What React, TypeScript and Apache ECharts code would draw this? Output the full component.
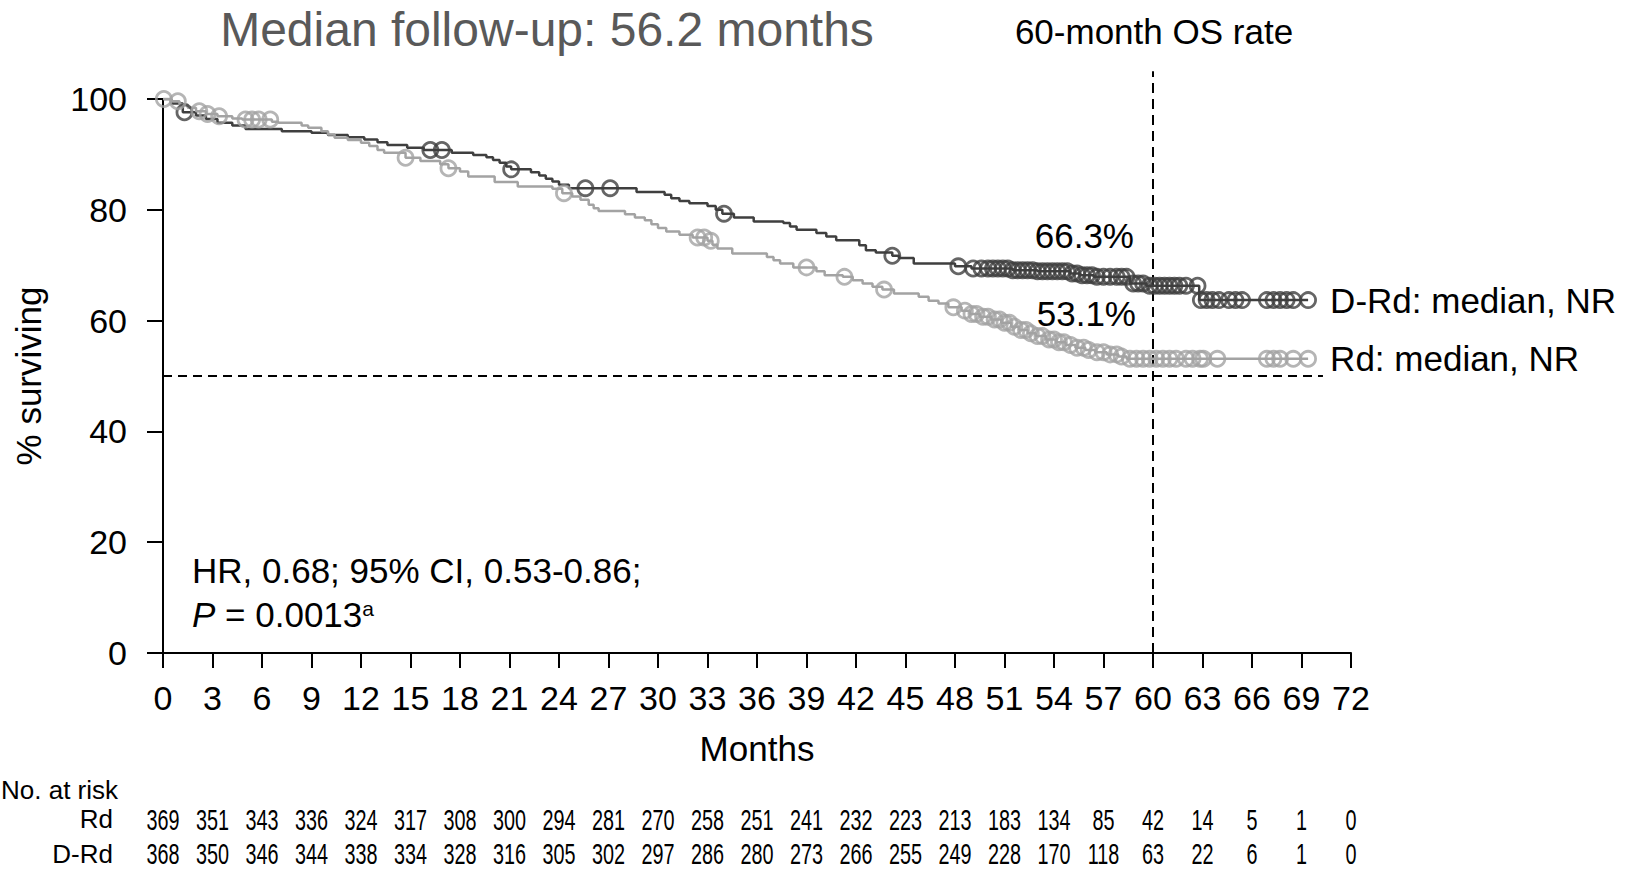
import React, { useEffect, useRef } from "react";
import * as echarts from "echarts";

const FONT = "'Liberation Sans', Arial, sans-serif";

const DARK = "#3f3f3f";
const GRAY = "#a3a3a3";

// Kaplan–Meier steps [month, % surviving]
const drdSteps: [number, number][] = [
  [0, 100], [0.5, 99.2], [1.2, 97.6], [2.0, 97.0], [2.6, 96.4], [3.3, 95.7], [4.2, 95.2], [5.0, 94.6],
  [7.2, 94.2], [9.0, 93.9], [10.0, 93.5], [11.2, 93.1], [12.2, 92.7], [13.0, 92.2], [13.6, 91.7],
  [14.8, 91.2], [15.8, 90.8], [17.5, 90.3], [18.8, 89.9], [19.6, 89.5], [20.0, 89.0], [20.4, 88.5],
  [20.8, 87.8], [21.1, 87.3], [22.3, 86.8], [22.8, 86.2], [23.2, 85.6], [23.6, 85.1], [24.0, 84.5],
  [24.6, 83.9], [28.7, 83.2], [30.4, 82.7], [30.8, 82.1], [31.3, 81.6], [31.9, 81.2], [33.0, 80.7],
  [33.5, 80.0], [33.9, 79.3], [34.6, 78.6], [35.8, 77.9], [37.6, 77.6], [38.0, 77.0], [38.4, 76.4],
  [39.6, 75.8], [40.2, 75.2], [40.8, 74.5], [42.2, 73.6], [42.6, 72.7], [43.2, 72.3], [44.2, 71.7],
  [44.6, 71.3], [45.5, 70.3], [48.0, 69.8], [49.0, 69.4], [51.5, 69.1], [53.0, 68.9], [55.0, 68.5],
  [55.6, 68.2], [56.4, 67.9], [58.6, 66.7], [59.6, 66.3], [62.8, 63.7], [69.4, 63.7],
];

const rdSteps: [number, number][] = [
  [0, 100], [0.5, 99.6], [1.0, 99.0], [1.5, 98.4], [2.0, 97.8], [2.6, 97.3], [3.3, 96.9], [4.2, 96.5],
  [4.8, 96.3], [6.6, 95.9], [7.0, 95.7], [8.4, 95.2], [8.8, 94.8], [9.6, 94.2], [10.0, 93.6],
  [10.4, 93.0], [11.2, 92.6], [12.0, 92.1], [12.5, 91.5], [13.0, 90.8], [13.4, 90.3], [14.7, 89.4],
  [15.6, 88.8], [16.8, 88.2], [17.3, 87.5], [18.0, 86.9], [18.5, 86.0], [20.1, 85.0], [21.5, 84.2],
  [23.6, 83.8], [24.2, 83.0], [24.8, 82.4], [25.3, 81.8], [25.8, 80.9], [26.1, 80.3], [26.4, 79.8],
  [28.0, 79.2], [28.6, 78.6], [29.2, 78.1], [29.6, 77.4], [30.0, 76.7], [30.5, 76.1], [31.3, 75.5],
  [32.1, 75.0], [33.0, 74.4], [33.3, 73.7], [33.6, 73.0], [34.5, 72.1], [36.6, 71.5], [37.0, 70.9],
  [37.4, 70.3], [38.2, 69.6], [39.6, 68.9], [40.1, 68.2], [41.2, 67.9], [41.8, 67.3], [42.4, 66.7],
  [43.0, 66.1], [43.6, 65.6], [44.3, 64.9], [45.8, 64.3], [46.4, 63.6], [47.0, 63.1], [47.6, 62.4],
  [48.4, 61.8], [48.9, 61.2], [49.5, 60.7], [50.2, 60.2], [50.8, 59.6], [51.4, 58.9], [51.9, 58.3],
  [52.4, 57.7], [52.9, 57.2], [53.5, 56.6], [54.1, 56.1], [54.7, 55.6], [55.3, 55.1], [55.9, 54.7],
  [56.5, 54.3], [57.2, 53.9], [57.9, 53.5], [58.4, 53.1], [69.4, 53.1],
];

// Censoring marks [month, % surviving]
const drdCensored: [number, number][] = [
  [1.3, 97.6], [16.2, 90.8], [16.9, 90.8], [21.1, 87.3], [25.6, 83.9], [27.1, 83.9], [34.0, 79.3],
  [44.2, 71.7], [48.2, 69.8], [49.1, 69.4], [49.6, 69.4], [50.0, 69.4], [50.3, 69.4], [50.6, 69.4],
  [50.9, 69.4], [51.2, 69.4], [51.5, 69.1], [51.8, 69.1], [52.1, 69.1], [52.4, 69.1], [52.7, 69.1],
  [53.0, 68.9], [53.3, 68.9], [53.6, 68.9], [53.9, 68.9], [54.2, 68.9], [54.5, 68.9], [54.8, 68.9],
  [55.1, 68.5], [55.4, 68.5], [55.7, 68.2], [56.0, 68.2], [56.3, 68.2], [56.6, 67.9], [57.0, 67.9],
  [57.4, 67.9], [57.8, 67.9], [58.1, 67.9], [58.4, 67.9], [58.8, 66.7], [59.1, 66.7], [59.4, 66.7],
  [59.8, 66.3], [60.1, 66.3], [60.4, 66.3], [60.7, 66.3], [61.0, 66.3], [61.3, 66.3], [61.6, 66.3],
  [62.0, 66.3], [62.7, 66.3], [62.9, 63.7], [63.25, 63.7], [63.6, 63.7], [64.0, 63.7], [64.6, 63.7],
  [65.0, 63.7], [65.4, 63.7], [66.9, 63.7], [67.3, 63.7], [67.7, 63.7], [68.1, 63.7], [68.5, 63.7],
  [69.4, 63.7],
];

const rdCensored: [number, number][] = [
  [0.05, 100], [0.9, 99.6], [2.2, 97.8], [2.7, 97.3], [3.4, 96.9], [5.0, 96.3], [5.4, 96.3],
  [5.8, 96.3], [6.5, 96.3], [14.7, 89.4], [17.3, 87.5], [24.3, 83.0], [32.4, 75.0], [32.8, 75.0],
  [33.2, 74.4], [39.0, 69.6], [41.3, 67.9], [43.7, 65.6], [47.9, 62.4], [48.6, 61.8], [49.0, 61.2],
  [49.3, 61.2], [49.7, 60.7], [50.0, 60.7], [50.4, 60.2], [50.7, 60.2], [51.0, 59.6], [51.3, 59.6],
  [51.6, 58.9], [52.0, 58.3], [52.3, 58.3], [52.6, 57.7], [53.0, 57.2], [53.3, 57.2], [53.7, 56.6],
  [54.0, 56.6], [54.3, 56.1], [54.6, 56.1], [55.0, 55.6], [55.4, 55.1], [55.8, 55.1], [56.1, 54.7],
  [56.6, 54.3], [57.0, 54.3], [57.4, 53.9], [57.8, 53.9], [58.1, 53.5], [58.6, 53.1], [59.0, 53.1],
  [59.4, 53.1], [59.8, 53.1], [60.2, 53.1], [60.6, 53.1], [61.0, 53.1], [61.4, 53.1], [62.0, 53.1],
  [62.4, 53.1], [62.85, 53.1], [63.05, 53.1], [63.9, 53.1], [66.9, 53.1], [67.3, 53.1], [67.7, 53.1],
  [68.5, 53.1], [69.4, 53.1],
];

// Number at risk
const riskMonths = [0, 3, 6, 9, 12, 15, 18, 21, 24, 27, 30, 33, 36, 39, 42, 45, 48, 51, 54, 57, 60, 63, 66, 69, 72];
const riskRd = [369, 351, 343, 336, 324, 317, 308, 300, 294, 281, 270, 258, 251, 241, 232, 223, 213, 183, 134, 85, 42, 14, 5, 1, 0];
const riskDRd = [368, 350, 346, 344, 338, 334, 328, 316, 305, 302, 297, 286, 280, 273, 266, 255, 249, 228, 170, 118, 63, 22, 6, 1, 0];
const riskRows = ["D-Rd", "Rd"];

// Reference lines
const landmarkLine: [number, number][] = [[60, 0], [60, 105]];
const medianLine: [number, number][] = [[0, 50], [70.3, 50]];

export default function App() {
  const ref = useRef<HTMLDivElement>(null);

  useEffect(() => {
    if (!ref.current) return;
    const chart = echarts.init(ref.current, null, { renderer: "svg" });

    const txt = (text: string, x: number, y: number, size: number, extra: any = {}, el: any = {}) => ({
      type: "text",
      x,
      y,
      silent: true,
      ...el,
      style: {
        text,
        fontSize: size,
        fontFamily: FONT,
        fill: "#000",
        textAlign: "center",
        textVerticalAlign: "middle",
        align: "center",
        verticalAlign: "middle",
        ...extra,
      },
    });

    const baseGraphics = [
      txt("Median follow-up: 56.2 months", 547, 29, 48, { fill: "#595959" }),
      txt("60-month OS rate", 1154, 31, 35),
      txt("66.3%", 1134, 235, 35, { textAlign: "right", align: "right" }),
      txt("53.1%", 1136, 313, 35, { textAlign: "right", align: "right" }),
      txt("HR, 0.68; 95% CI, 0.53-0.86;", 192, 570, 35, { textAlign: "left", align: "left" }),
      txt("{i|P} = 0.0013{sup|a}", 192, 614, 35, {
        textAlign: "left",
        align: "left",
        rich: {
          i: { fontStyle: "italic", fontSize: 35, fontFamily: FONT, fill: "#000" },
          sup: { fontSize: 21, fontFamily: FONT, fill: "#000", padding: [0, 0, 12, 0] },
        },
      }),
      txt("No. at risk", 1, 790, 26, { textAlign: "left", align: "left" }),
    ];

    const option: any = {
      animation: false,
      backgroundColor: "#fff",
      textStyle: { fontFamily: FONT },
      grid: [
        { left: 163, top: 99, right: 278, bottom: 218 },
        { left: 163, top: 802, right: 278, height: 70 },
      ],
      xAxis: [
        {
          type: "value",
          gridIndex: 0,
          min: 0,
          max: 72,
          interval: 3,
          name: "Months",
          nameLocation: "middle",
          nameGap: 78,
          nameTextStyle: { fontSize: 35, color: "#000", fontFamily: FONT },
          axisLine: { show: true, lineStyle: { color: "#000", width: 2 } },
          axisTick: { show: true, length: 15, lineStyle: { color: "#000", width: 2 } },
          axisLabel: { fontSize: 34, color: "#000", margin: 28, fontFamily: FONT },
          splitLine: { show: false },
        },
        {
          type: "value",
          gridIndex: 1,
          min: 0,
          max: 72,
          interval: 3,
          show: false,
        },
      ],
      yAxis: [
        {
          type: "value",
          gridIndex: 0,
          min: 0,
          max: 100,
          interval: 20,
          name: "% surviving",
          nameLocation: "middle",
          nameGap: 117,
          nameTextStyle: { fontSize: 35, color: "#000", fontFamily: FONT },
          axisLine: { show: true, lineStyle: { color: "#000", width: 2 } },
          axisTick: { show: true, length: 16, lineStyle: { color: "#000", width: 2 } },
          axisLabel: { fontSize: 34, color: "#000", margin: 36, fontFamily: FONT },
          splitLine: { show: false },
        },
        {
          type: "category",
          gridIndex: 1,
          data: riskRows,
          axisLine: { show: false },
          axisTick: { show: false },
          axisLabel: { fontSize: 26, color: "#000", margin: 50, fontFamily: FONT },
          splitLine: { show: false },
        },
      ],
      series: [
        {
          type: "line",
          name: "Median",
          data: medianLine,
          clip: false,
          silent: true,
          showSymbol: false,
          lineStyle: { color: "#000", width: 2, type: [9, 6] },
          z: 1,
        },
        {
          type: "line",
          name: "60-month",
          data: landmarkLine,
          clip: false,
          silent: true,
          showSymbol: false,
          lineStyle: { color: "#000", width: 2, type: [10, 6] },
          z: 1,
        },
        {
          type: "line",
          name: "D-Rd",
          data: drdSteps,
          step: "end",
          showSymbol: false,
          lineStyle: { color: DARK, width: 2.5 },
          endLabel: {
            show: true,
            formatter: "D-Rd: median, NR",
            fontSize: 35,
            color: "#000",
            fontFamily: FONT,
            distance: 22,
          },
          z: 2,
        },
        {
          type: "line",
          name: "Rd",
          data: rdSteps,
          step: "end",
          showSymbol: false,
          lineStyle: { color: GRAY, width: 2.5 },
          endLabel: {
            show: true,
            formatter: "Rd: median, NR",
            fontSize: 35,
            color: "#000",
            fontFamily: FONT,
            distance: 22,
          },
          z: 2,
        },
        {
          type: "scatter",
          name: "D-Rd censored",
          data: drdCensored,
          symbol: "circle",
          symbolSize: 15,
          itemStyle: { color: "rgba(0,0,0,0)", borderColor: DARK, borderWidth: 2.8 },
          z: 3,
        },
        {
          type: "scatter",
          name: "Rd censored",
          data: rdCensored,
          symbol: "circle",
          symbolSize: 15,
          itemStyle: { color: "rgba(0,0,0,0)", borderColor: GRAY, borderWidth: 2.8 },
          z: 3,
        },
        {
          type: "scatter",
          name: "At risk anchor",
          xAxisIndex: 1,
          yAxisIndex: 1,
          data: riskMonths.map((m) => [m, 0]),
          symbolSize: 0,
          itemStyle: { color: "rgba(0,0,0,0)" },
          silent: true,
        },
      ],
      graphic: baseGraphics,
    };

    chart.setOption(option);

    // Number-at-risk table, positioned through the risk grid's own axes
    const riskTexts: any[] = [];
    const rows: [number, number[]][] = [
      [1, riskRd],
      [0, riskDRd],
    ];
    rows.forEach(([rowIdx, vals]) => {
      riskMonths.forEach((m, i) => {
        const p = chart.convertToPixel({ xAxisIndex: 1, yAxisIndex: 1 }, [m, rowIdx]) as number[];
        if (!p) return;
        riskTexts.push(txt(String(vals[i]), p[0], p[1], 30, {}, { scaleX: 0.66, scaleY: 1 }));
      });
    });
    chart.setOption({ graphic: [...baseGraphics, ...riskTexts] });

    return () => chart.dispose();
  }, []);

  return (
    <div
      ref={ref}
      style={{ position: "fixed", left: 0, top: 0, width: "1629px", height: "871px", background: "#fff" }}
    />
  );
}
